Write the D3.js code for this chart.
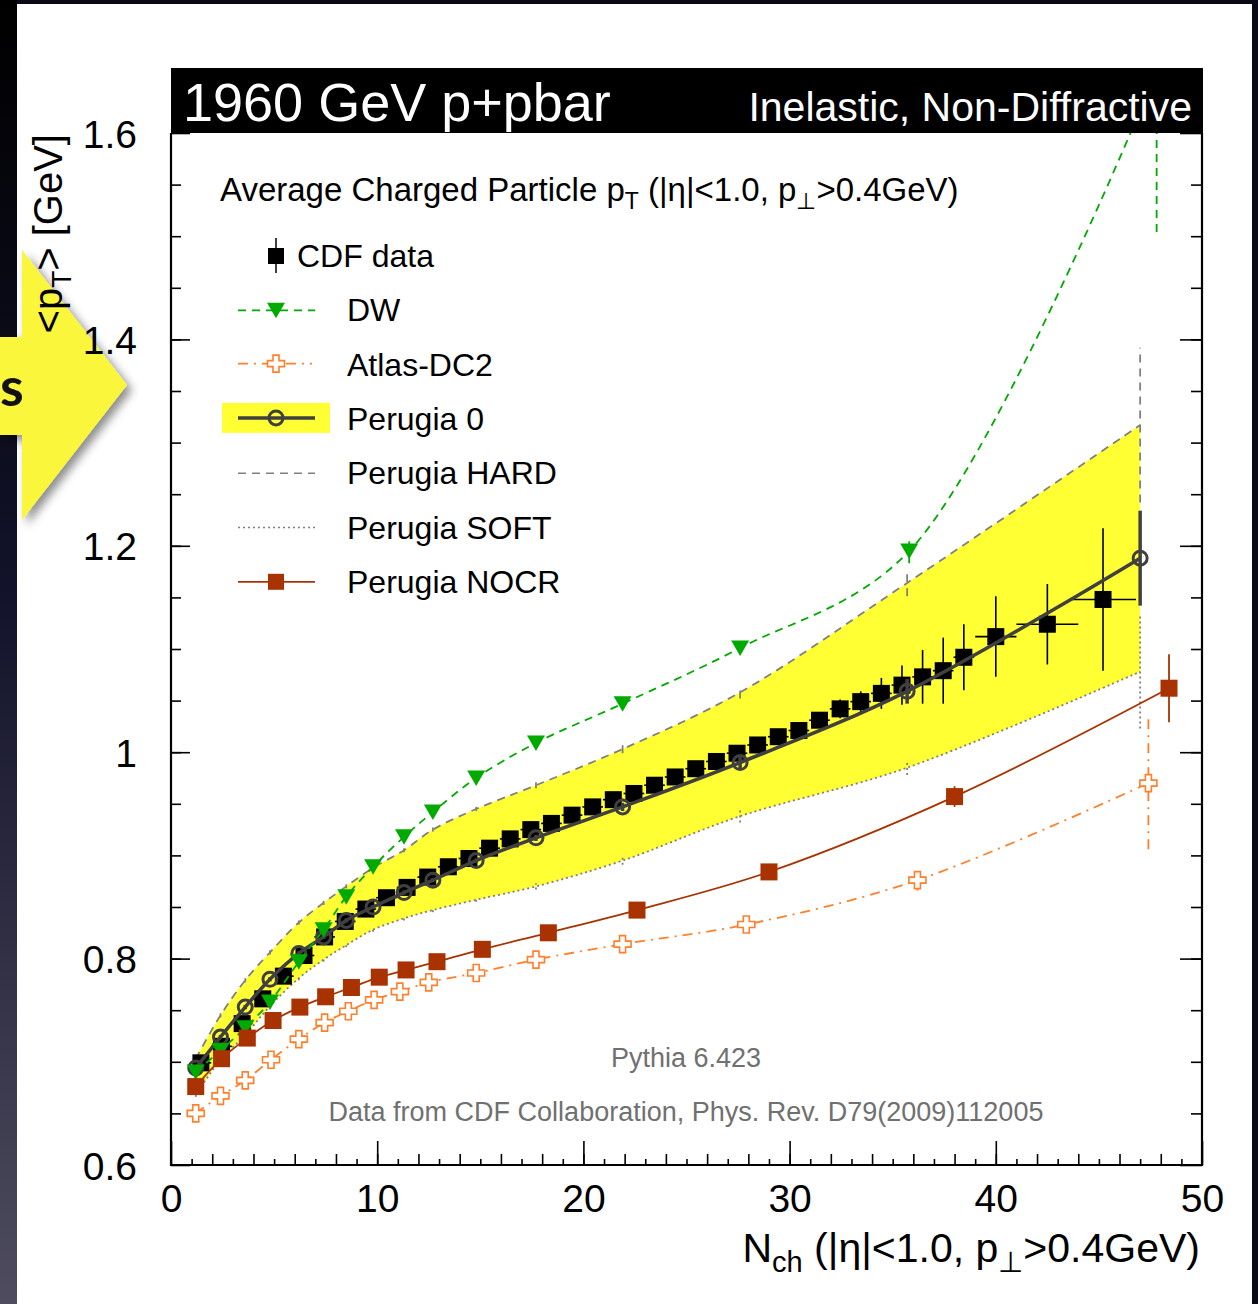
<!DOCTYPE html>
<html>
<head>
<meta charset="utf-8">
<script src="https://cdn.jsdelivr.net/npm/d3@7"></script>
<style>
  body { margin: 0; background: #0a0a16; }
  svg { display: block; font-family: "Liberation Sans", Arial, Helvetica, sans-serif; }
</style>
</head>
<body>
<script>
// ---- axis labels ----
const xMajorTicks = [0, 10, 20, 30, 40, 50];
const xTickLabels = ["0", "10", "20", "30", "40", "50"];
const yMajorTicks = [0.6, 0.8, 1.0, 1.2, 1.4, 1.6];
const yTickLabels = ["0.6", "0.8", "1", "1.2", "1.4", "1.6"];

// ---- CDF data ----
const cdfX = [1.45, 2.45, 3.45, 4.45, 5.45, 6.45, 7.45, 8.45, 9.45, 10.45,
              11.45, 12.45, 13.45, 14.45, 15.45, 16.45, 17.45, 18.45, 19.45, 20.45,
              21.45, 22.45, 23.45, 24.45, 25.45, 26.45, 27.45, 28.45, 29.45, 30.45,
              31.45, 32.45, 33.45, 34.45, 35.45, 36.45, 37.45, 38.45, 40.0, 42.5, 45.2];
const cdfXErr = [0.5, 0.5, 0.5, 0.5, 0.5, 0.5, 0.5, 0.5, 0.5, 0.5,
                 0.5, 0.5, 0.5, 0.5, 0.5, 0.5, 0.5, 0.5, 0.5, 0.5,
                 0.5, 0.5, 0.5, 0.5, 0.5, 0.5, 0.5, 0.5, 0.5, 0.5,
                 0.5, 0.5, 0.5, 0.5, 0.5, 0.5, 0.5, 0.5, 1.0, 1.5, 1.6];
const cdfY = [0.699, 0.715, 0.737, 0.761, 0.783, 0.803, 0.821, 0.836, 0.848, 0.859,
              0.869, 0.879, 0.889, 0.897, 0.907, 0.916, 0.925, 0.931, 0.939, 0.947,
              0.954, 0.960, 0.968, 0.976, 0.984, 0.991, 0.999, 1.007, 1.015, 1.021,
              1.031, 1.042, 1.049, 1.057, 1.065, 1.073, 1.079, 1.092, 1.112, 1.124, 1.148];
const cdfYErr = [0.003, 0.003, 0.003, 0.003, 0.003, 0.003, 0.003, 0.003, 0.003, 0.003,
                 0.003, 0.003, 0.003, 0.003, 0.003, 0.003, 0.003, 0.003, 0.003, 0.003,
                 0.003, 0.003, 0.003, 0.003, 0.004, 0.004, 0.005, 0.005, 0.005, 0.006,
                 0.007, 0.009, 0.010, 0.015, 0.019, 0.026, 0.032, 0.032, 0.039, 0.039, 0.069];

// ---- Pythia tunes ----
const modelX = [1.2, 2.4, 3.6, 4.8, 6.2, 7.4, 8.5, 9.8, 11.3, 12.7, 14.8, 17.7, 21.9, 27.6, 35.7, 47.0];

const p0Y   = [0.694, 0.724, 0.753, 0.780, 0.805, 0.821, 0.837, 0.850, 0.864, 0.876, 0.895, 0.917, 0.947, 0.990, 1.059, 1.188];
const p0Err = [0.002, 0.002, 0.002, 0.002, 0.002, 0.002, 0.002, 0.002, 0.002, 0.002, 0.002, 0.003, 0.004, 0.006, 0.012, 0.046];

const hardY   = [0.703, 0.745, 0.779, 0.806, 0.835, 0.854, 0.870, 0.888, 0.905, 0.925, 0.945, 0.968, 1.003, 1.058, 1.164, 1.317];
const hardErr = [0.002, 0.002, 0.002, 0.002, 0.002, 0.002, 0.002, 0.002, 0.002, 0.002, 0.002, 0.003, 0.004, 0.006, 0.013, 0.075];

const softY   = [0.668, 0.702, 0.726, 0.754, 0.781, 0.799, 0.813, 0.828, 0.839, 0.847, 0.857, 0.870, 0.895, 0.938, 0.985, 1.078];
const softErr = [0.002, 0.002, 0.002, 0.002, 0.002, 0.002, 0.002, 0.002, 0.002, 0.002, 0.002, 0.003, 0.004, 0.006, 0.007, 0.055];

const dwX   = [1.2, 2.4, 3.6, 4.8, 6.2, 7.4, 8.5, 9.8, 11.3, 12.7, 14.8, 17.7, 21.9, 27.6, 35.8, 47.8];
const dwY   = [0.690, 0.711, 0.733, 0.758, 0.797, 0.828, 0.860, 0.889, 0.918, 0.942, 0.975, 1.009, 1.047, 1.101, 1.195, 1.66];
const dwErr = [0.002, 0.002, 0.002, 0.002, 0.002, 0.002, 0.002, 0.002, 0.002, 0.002, 0.002, 0.003, 0.004, 0.006, 0.012, 0.156];

const atlasX   = [1.2, 2.4, 3.6, 4.85, 6.2, 7.45, 8.6, 9.85, 11.1, 12.5, 14.8, 17.7, 21.9, 27.9, 36.2, 47.4];
const atlasY   = [0.650, 0.667, 0.682, 0.702, 0.722, 0.738, 0.749, 0.760, 0.768, 0.777, 0.786, 0.799, 0.814, 0.833, 0.876, 0.970];
const atlasErr = [0.002, 0.002, 0.002, 0.002, 0.002, 0.002, 0.002, 0.002, 0.002, 0.002, 0.002, 0.003, 0.004, 0.006, 0.010, 0.064];

const nocrX   = [1.2, 2.45, 3.7, 4.95, 6.25, 7.5, 8.75, 10.1, 11.4, 12.9, 15.1, 18.3, 22.6, 29.0, 38.0, 48.4];
const nocrY   = [0.676, 0.703, 0.723, 0.740, 0.753, 0.763, 0.772, 0.782, 0.789, 0.797, 0.809, 0.825, 0.847, 0.884, 0.957, 1.062];
const nocrErr = [0.002, 0.002, 0.002, 0.002, 0.002, 0.002, 0.002, 0.002, 0.002, 0.002, 0.002, 0.003, 0.004, 0.006, 0.010, 0.033];

const legendLabels = ["CDF data", "DW", "Atlas-DC2", "Perugia 0", "Perugia HARD", "Perugia SOFT", "Perugia NOCR"];

function createChart() {
    const svgWidth = 1258, svgHeight = 1304;
    const plot = { left: 171, right: 1202, top: 133, bottom: 1165 };
    const font = '"Liberation Sans", Arial, Helvetica, sans-serif';

    const x = d3.scaleLinear().domain([0, 50]).range([plot.left, plot.right]);
    const y = d3.scaleLinear().domain([0.6, 1.6]).range([plot.bottom, plot.top]);

    const yellow = "#ffff33", green = "#00aa00", orange = "#ff7f2a",
          brown = "#a83300", p0col = "#404040", grey = "#808080";

    const svg = d3.create("svg")
        .attr("viewBox", `0 0 ${svgWidth} ${svgHeight}`)
        .attr("width", svgWidth)
        .attr("height", svgHeight);

    const defs = svg.append("defs");
    const grad = defs.append("linearGradient").attr("id", "leftStrip")
        .attr("x1", 0).attr("y1", 0).attr("x2", 0).attr("y2", 1);
    grad.append("stop").attr("offset", "0%").attr("stop-color", "#000000");
    grad.append("stop").attr("offset", "45%").attr("stop-color", "#12122a");
    grad.append("stop").attr("offset", "100%").attr("stop-color", "#4e4c5e");
    defs.append("filter").attr("id", "shadow")
        .attr("x", "-20%").attr("y", "-20%").attr("width", "160%").attr("height", "160%")
        .append("feDropShadow")
        .attr("dx", 5).attr("dy", 5).attr("stdDeviation", 5)
        .attr("flood-color", "#000").attr("flood-opacity", 0.45);
    defs.append("clipPath").attr("id", "plotClip")
        .append("rect")
        .attr("x", plot.left).attr("y", plot.top)
        .attr("width", plot.right - plot.left).attr("height", plot.bottom - plot.top);

    // Page background (slide frame)
    svg.append("rect").attr("width", svgWidth).attr("height", svgHeight).attr("fill", "#0a0a16");
    svg.append("rect").attr("x", 0).attr("y", 0).attr("width", 17).attr("height", svgHeight)
        .attr("fill", "url(#leftStrip)");
    svg.append("rect").attr("x", 17).attr("y", 4).attr("width", 1235).attr("height", svgHeight - 4)
        .attr("fill", "#ffffff");

    // Yellow slide arrow
    svg.append("path")
        .attr("d", "M0,337 H22 V250 L127,385 L22,520 V435 H0 Z")
        .attr("fill", "#faf63a")
        .attr("filter", "url(#shadow)");
    svg.append("text")
        .attr("x", 0).attr("y", 406)
        .attr("font-family", "Lato, 'Open Sans', sans-serif")
        .attr("font-weight", 700)
        .attr("font-size", 54)
        .attr("fill", "#111")
        .text("s");

    // Title bar
    svg.append("rect")
        .attr("x", plot.left).attr("y", 68)
        .attr("width", plot.right - plot.left + 1).attr("height", plot.top - 68)
        .attr("fill", "#000");
    svg.append("text")
        .attr("x", 183).attr("y", 121)
        .attr("fill", "#fff").attr("font-size", 54)
        .text("1960 GeV p+pbar");
    svg.append("text")
        .attr("x", 1192).attr("y", 121)
        .attr("text-anchor", "end")
        .attr("fill", "#fff").attr("font-size", 41)
        .text("Inelastic, Non-Diffractive");

    const g = svg.append("g").attr("clip-path", "url(#plotClip)");

    const curve = d3.curveCatmullRom.alpha(0.5);
    const lineOf = (xs) => d3.line()
        .x((d, i) => x(xs[i]))
        .y(d => y(d))
        .curve(curve);

    function errBars(xs, ys, es, color, width, dash) {
        g.append("g").selectAll("line")
            .data(ys)
            .join("line")
            .attr("x1", (d, i) => x(xs[i]))
            .attr("x2", (d, i) => x(xs[i]))
            .attr("y1", (d, i) => y(d - es[i]))
            .attr("y2", (d, i) => y(d + es[i]))
            .attr("stroke", color)
            .attr("stroke-width", width)
            .attr("stroke-dasharray", dash);
    }

    // Perugia HARD/SOFT band
    g.append("path")
        .datum(modelX)
        .attr("fill", yellow)
        .attr("d", d3.area()
            .x(d => x(d))
            .y0((d, i) => y(softY[i]))
            .y1((d, i) => y(hardY[i]))
            .curve(curve));

    g.append("path").datum(hardY)
        .attr("fill", "none").attr("stroke", grey).attr("stroke-width", 1.8)
        .attr("stroke-dasharray", "8,6")
        .attr("d", lineOf(modelX));
    errBars(modelX, hardY, hardErr, grey, 1.8, "8,6");

    g.append("path").datum(softY)
        .attr("fill", "none").attr("stroke", grey).attr("stroke-width", 1.8)
        .attr("stroke-dasharray", "2,3")
        .attr("d", lineOf(modelX));
    errBars(modelX, softY, softErr, grey, 1.8, "2,3");

    // CDF data
    const cdf = g.append("g");
    cdf.selectAll("line.ey")
        .data(cdfY)
        .join("line")
        .attr("class", "ey")
        .attr("x1", (d, i) => x(cdfX[i])).attr("x2", (d, i) => x(cdfX[i]))
        .attr("y1", (d, i) => y(d - cdfYErr[i])).attr("y2", (d, i) => y(d + cdfYErr[i]))
        .attr("stroke", "#000").attr("stroke-width", 1.6);
    cdf.selectAll("line.ex")
        .data(cdfY)
        .join("line")
        .attr("class", "ex")
        .attr("x1", (d, i) => x(cdfX[i] - cdfXErr[i])).attr("x2", (d, i) => x(cdfX[i] + cdfXErr[i]))
        .attr("y1", d => y(d)).attr("y2", d => y(d))
        .attr("stroke", "#000").attr("stroke-width", 1.6);
    cdf.selectAll("rect")
        .data(cdfY)
        .join("rect")
        .attr("x", (d, i) => x(cdfX[i]) - 8.5)
        .attr("y", d => y(d) - 8.5)
        .attr("width", 17).attr("height", 17)
        .attr("fill", "#000");

    // Perugia 0
    g.append("path").datum(p0Y)
        .attr("fill", "none").attr("stroke", p0col).attr("stroke-width", 3.5)
        .attr("d", lineOf(modelX));
    errBars(modelX, p0Y, p0Err, p0col, 3.5, null);
    g.append("g").selectAll("circle")
        .data(p0Y)
        .join("circle")
        .attr("cx", (d, i) => x(modelX[i]))
        .attr("cy", d => y(d))
        .attr("r", 7)
        .attr("fill", "none")
        .attr("stroke", p0col)
        .attr("stroke-width", 3);

    // DW
    const triangle = "M-9,-7.5 L9,-7.5 L0,8 Z";
    g.append("path").datum(dwY)
        .attr("fill", "none").attr("stroke", green).attr("stroke-width", 1.8)
        .attr("stroke-dasharray", "8,6")
        .attr("d", lineOf(dwX));
    errBars(dwX, dwY, dwErr, green, 1.8, "8,6");
    g.append("g").selectAll("path")
        .data(dwY)
        .join("path")
        .attr("transform", (d, i) => `translate(${x(dwX[i])},${y(d)})`)
        .attr("d", triangle)
        .attr("fill", green);

    // Atlas-DC2
    const cross = "M-3,-8.5 H3 V-3 H8.5 V3 H3 V8.5 H-3 V3 H-8.5 V-3 H-3 Z";
    g.append("path").datum(atlasY)
        .attr("fill", "none").attr("stroke", orange).attr("stroke-width", 1.8)
        .attr("stroke-dasharray", "10,6,2,6")
        .attr("d", lineOf(atlasX));
    errBars(atlasX, atlasY, atlasErr, orange, 1.8, "10,6,2,6");
    g.append("g").selectAll("path")
        .data(atlasY)
        .join("path")
        .attr("transform", (d, i) => `translate(${x(atlasX[i])},${y(d)})`)
        .attr("d", cross)
        .attr("fill", "#fff")
        .attr("stroke", orange)
        .attr("stroke-width", 1.6);

    // Perugia NOCR
    g.append("path").datum(nocrY)
        .attr("fill", "none").attr("stroke", brown).attr("stroke-width", 1.8)
        .attr("d", lineOf(nocrX));
    errBars(nocrX, nocrY, nocrErr, brown, 1.8, null);
    g.append("g").selectAll("rect")
        .data(nocrY)
        .join("rect")
        .attr("x", (d, i) => x(nocrX[i]) - 8.5)
        .attr("y", d => y(d) - 8.5)
        .attr("width", 17).attr("height", 17)
        .attr("fill", brown);

    // Axes
    const styleAxis = sel => {
        sel.select(".domain").remove();
        sel.attr("font-family", font).attr("color", "#000");
        sel.selectAll(".tick line").attr("stroke-width", 1.6);
    };
    svg.append("g")
        .attr("transform", `translate(0,${plot.bottom})`)
        .call(d3.axisBottom(x).tickValues(d3.range(1, 50, 2)).tickSize(-6).tickFormat(""))
        .call(styleAxis);
    svg.append("g")
        .attr("transform", `translate(0,${plot.bottom})`)
        .call(d3.axisBottom(x).tickValues(d3.range(2, 50, 2)).tickSize(-11).tickFormat(""))
        .call(styleAxis);
    svg.append("g")
        .attr("transform", `translate(0,${plot.bottom})`)
        .call(d3.axisBottom(x).tickValues(xMajorTicks).tickSize(-24).tickPadding(19)
            .tickFormat((d, i) => xTickLabels[i]))
        .call(styleAxis)
        .attr("font-size", 39);

    const yMinor = d3.range(0.65, 1.6, 0.05);
    svg.append("g")
        .attr("transform", `translate(${plot.left},0)`)
        .call(d3.axisLeft(y).tickValues(yMinor).tickSize(-10).tickFormat(""))
        .call(styleAxis);
    svg.append("g")
        .attr("transform", `translate(${plot.left},0)`)
        .call(d3.axisLeft(y).tickValues(yMajorTicks).tickSize(-19).tickPadding(34)
            .tickFormat((d, i) => yTickLabels[i]))
        .call(styleAxis)
        .attr("font-size", 39)
        .selectAll("text").attr("dy", "0.36em");
    svg.append("g")
        .attr("transform", `translate(${plot.right},0)`)
        .call(d3.axisRight(y).tickValues(yMinor).tickSize(-11).tickFormat(""))
        .call(styleAxis);
    svg.append("g")
        .attr("transform", `translate(${plot.right},0)`)
        .call(d3.axisRight(y).tickValues(yMajorTicks).tickSize(-22).tickFormat(""))
        .call(styleAxis);

    // Frame
    svg.append("path")
        .attr("d", `M${plot.left},${plot.top} V${plot.bottom} H${plot.right} V${plot.top}`)
        .attr("fill", "none").attr("stroke", "#000").attr("stroke-width", 2.2);

    // Axis titles
    const xt = svg.append("text")
        .attr("x", 1200).attr("y", 1262)
        .attr("text-anchor", "end")
        .attr("font-size", 41)
        .attr("fill", "#000");
    xt.append("tspan").text("N");
    xt.append("tspan").attr("font-size", 29).attr("dy", 10).text("ch");
    xt.append("tspan").attr("dy", -10).text(" (|η|<1.0, p");
    xt.append("tspan").attr("font-size", 29).attr("dy", 10).text("⊥");
    xt.append("tspan").attr("dy", -10).text(">0.4GeV)");

    const yt = svg.append("text")
        .attr("transform", "translate(62,134) rotate(-90)")
        .attr("text-anchor", "end")
        .attr("font-size", 40)
        .attr("fill", "#000");
    yt.append("tspan").text("<p");
    yt.append("tspan").attr("font-size", 28).attr("dy", 9).text("T");
    yt.append("tspan").attr("dy", -9).text("> [GeV]");

    // Legend
    const lh = svg.append("text")
        .attr("x", 220).attr("y", 201)
        .attr("font-size", 33)
        .attr("fill", "#000");
    lh.append("tspan").text("Average Charged Particle p");
    lh.append("tspan").attr("font-size", 23).attr("dy", 8).text("T");
    lh.append("tspan").attr("dy", -8).text(" (|η|<1.0, p");
    lh.append("tspan").attr("font-size", 23).attr("dy", 8).text("⊥");
    lh.append("tspan").attr("dy", -8).text(">0.4GeV)");

    const lg = svg.append("g");
    const rowY = i => 267 + i * 54.3;
    const symX = 276;
    lg.selectAll("text")
        .data(legendLabels)
        .join("text")
        .attr("x", (d, i) => i === 0 ? 297 : 347)
        .attr("y", (d, i) => rowY(i))
        .attr("font-size", 32)
        .attr("fill", "#000")
        .text(d => d);

    // CDF data symbol
    lg.append("line").attr("x1", symX).attr("x2", symX)
        .attr("y1", rowY(0) - 29).attr("y2", rowY(0) + 6)
        .attr("stroke", "#000").attr("stroke-width", 1.5);
    lg.append("rect").attr("x", symX - 8).attr("y", rowY(0) - 19)
        .attr("width", 16).attr("height", 16).attr("fill", "#000");
    // DW symbol
    lg.append("line").attr("x1", 238).attr("x2", 315)
        .attr("y1", rowY(1) - 11).attr("y2", rowY(1) - 11)
        .attr("stroke", green).attr("stroke-width", 1.8).attr("stroke-dasharray", "8,6");
    lg.append("path").attr("transform", `translate(${symX},${rowY(1) - 11})`)
        .attr("d", triangle).attr("fill", green);
    // Atlas symbol
    lg.append("line").attr("x1", 238).attr("x2", 312)
        .attr("y1", rowY(2) - 12).attr("y2", rowY(2) - 12)
        .attr("stroke", orange).attr("stroke-width", 1.8).attr("stroke-dasharray", "10,6,2,6");
    lg.append("path").attr("transform", `translate(${symX},${rowY(2) - 12})`)
        .attr("d", cross).attr("fill", "#fff").attr("stroke", orange).attr("stroke-width", 1.6);
    // Perugia 0 symbol
    lg.append("rect").attr("x", 222).attr("y", rowY(3) - 27)
        .attr("width", 108).attr("height", 30).attr("fill", yellow);
    lg.append("line").attr("x1", 238).attr("x2", 315)
        .attr("y1", rowY(3) - 12).attr("y2", rowY(3) - 12)
        .attr("stroke", p0col).attr("stroke-width", 3.5);
    lg.append("circle").attr("cx", symX).attr("cy", rowY(3) - 12).attr("r", 7)
        .attr("fill", "none").attr("stroke", p0col).attr("stroke-width", 3);
    // HARD / SOFT symbols
    lg.append("line").attr("x1", 238).attr("x2", 315)
        .attr("y1", rowY(4) - 11).attr("y2", rowY(4) - 11)
        .attr("stroke", grey).attr("stroke-width", 1.5).attr("stroke-dasharray", "8,6");
    lg.append("line").attr("x1", 238).attr("x2", 315)
        .attr("y1", rowY(5) - 11).attr("y2", rowY(5) - 11)
        .attr("stroke", grey).attr("stroke-width", 1.5).attr("stroke-dasharray", "2,3");
    // NOCR symbol
    lg.append("line").attr("x1", 238).attr("x2", 315)
        .attr("y1", rowY(6) - 11).attr("y2", rowY(6) - 11)
        .attr("stroke", brown).attr("stroke-width", 1.8);
    lg.append("rect").attr("x", symX - 8).attr("y", rowY(6) - 19)
        .attr("width", 16).attr("height", 16).attr("fill", brown);

    // Notes
    svg.append("text")
        .attr("x", 686).attr("y", 1067)
        .attr("text-anchor", "middle")
        .attr("font-size", 27).attr("fill", "#707070")
        .text("Pythia 6.423");
    svg.append("text")
        .attr("x", 686).attr("y", 1121)
        .attr("text-anchor", "middle")
        .attr("font-size", 27).attr("fill", "#707070")
        .text("Data from CDF Collaboration, Phys. Rev. D79(2009)112005");

    svg.selectAll("text").filter(function () { return !this.getAttribute("font-family"); })
        .attr("font-family", font);

    document.body.append(svg.node());
}

createChart();
</script>
</body>
</html>
